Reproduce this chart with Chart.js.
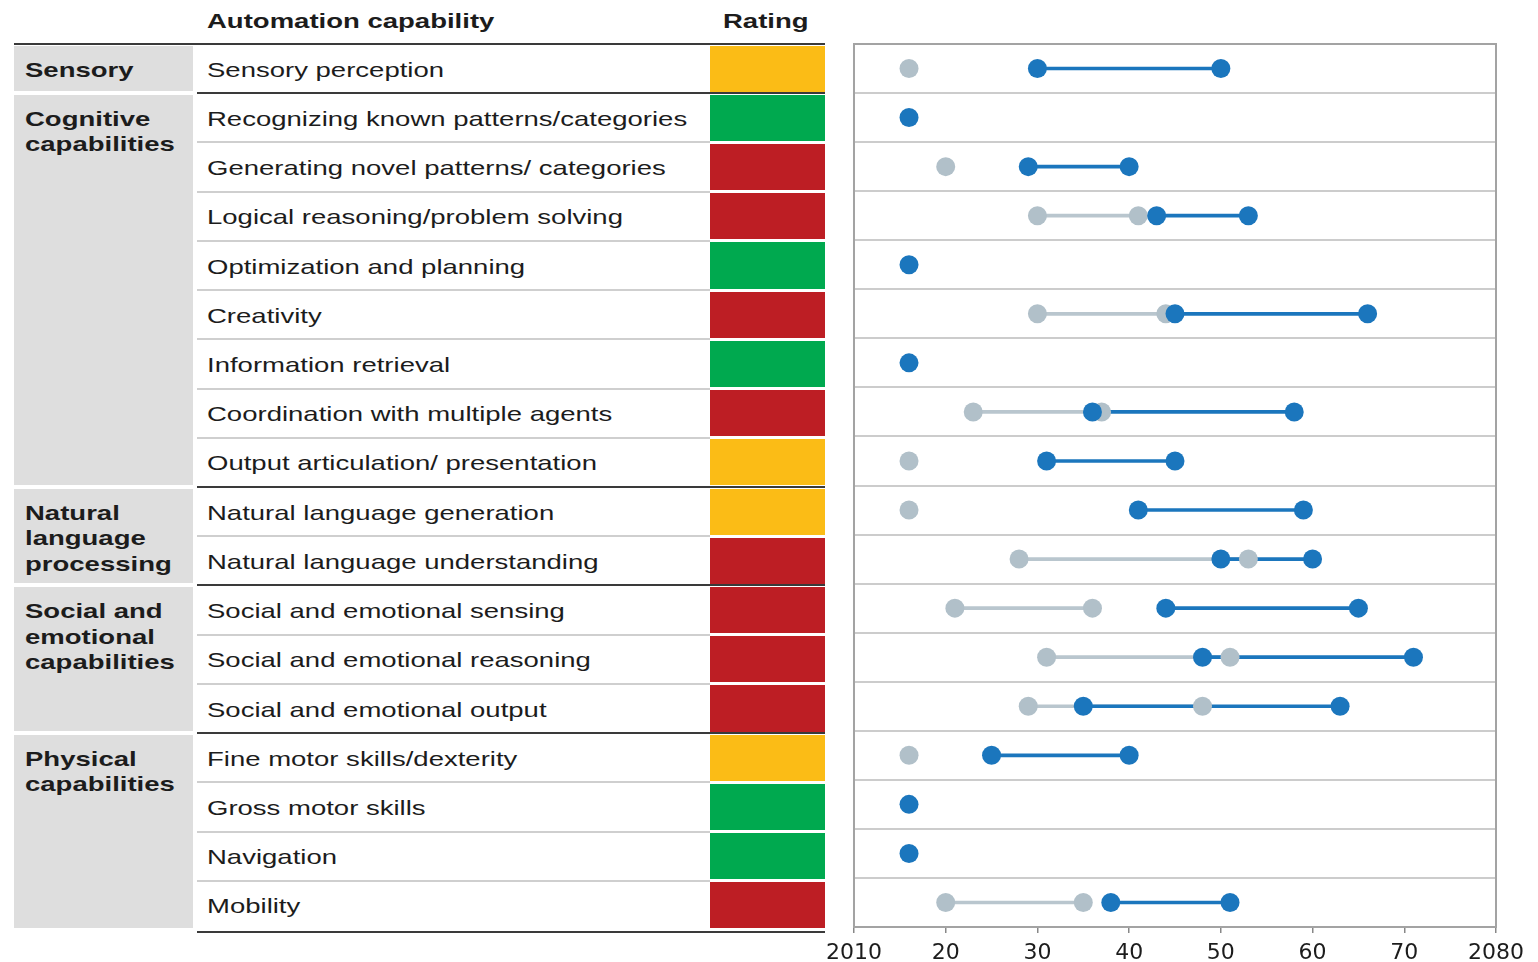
<!DOCTYPE html>
<html>
<head>
<meta charset="utf-8">
<script src="https://cdn.jsdelivr.net/npm/chart.js@4.4.1/dist/chart.umd.min.js"></script>
<style>
  body { margin: 0; background: #fff; width: 1538px; height: 962px; position: relative; overflow: hidden;
         font-family: "Liberation Sans", Arial, sans-serif; color: #1c1c1c; }
  .box { position: absolute; }
  .txt { position: absolute; font-size: 21px; line-height: 25.5px; white-space: pre; transform: scaleX(1.31); transform-origin: 0 50%; }
  .bold { font-weight: bold; }
  #wrap { position: absolute; left: 819px; top: 0; }
</style>
</head>
<body>
<div id="table"></div>
<div id="wrap"><canvas id="chart" width="719" height="962"></canvas></div>
<script>
// rows, top to bottom
const capabilities = [
  'Sensory perception',
  'Recognizing known patterns/categories',
  'Generating novel patterns/ categories',
  'Logical reasoning/problem solving',
  'Optimization and planning',
  'Creativity',
  'Information retrieval',
  'Coordination with multiple agents',
  'Output articulation/ presentation',
  'Natural language generation',
  'Natural language understanding',
  'Social and emotional sensing',
  'Social and emotional reasoning',
  'Social and emotional output',
  'Fine motor skills/dexterity',
  'Gross motor skills',
  'Navigation',
  'Mobility'
];
const groupNames = ['Sensory', 'Cognitive\ncapabilities', 'Natural\nlanguage\nprocessing', 'Social and\nemotional\ncapabilities', 'Physical\ncapabilities'];
const groupStarts = [0, 1, 9, 11, 14];
const groupSizes = [1, 8, 2, 3, 4];
const ratings = ['yellow', 'green', 'red', 'red', 'green', 'red', 'green', 'red', 'yellow',
                 'yellow', 'red', 'red', 'red', 'red', 'yellow', 'green', 'green', 'red'];

// years; null = no point
const greyStart = [2016, null, 2020, 2030, null, 2030, null, 2023, 2016, 2016, 2028, 2021, 2031, 2029, 2016, null, null, 2020];
const greyEnd   = [null, null, null, 2041, null, 2044, null, 2037, null, null, 2053, 2036, 2051, 2048, null, null, null, 2035];
const blueStart = [2030, 2016, 2029, 2043, 2016, 2045, 2016, 2036, 2031, 2041, 2050, 2044, 2048, 2035, 2025, 2016, 2016, 2038];
const blueEnd   = [2050, null, 2040, 2053, null, 2066, null, 2058, 2045, 2059, 2060, 2065, 2071, 2063, 2040, null, null, 2051];
const tickLabels = ['2010', '20', '30', '40', '50', '60', '70', '2080'];

const ratingColors = { yellow: '#fbbc16', green: '#00a94f', red: '#bd1e24' };
const blue = '#1b76bd';
const greyDot = '#b1c0c9';
const greyLine = '#b9c6ce';

// ---- left table ----
const TOP = 44, ROW_H = 886 / 18;
const rowTop = i => TOP + i * ROW_H;
const table = document.getElementById('table');

function box(x, y, w, h, color) {
  const d = document.createElement('div');
  d.className = 'box';
  d.style.cssText = `left:${x}px;top:${y}px;width:${w}px;height:${h}px;background:${color}`;
  table.appendChild(d);
}
function text(str, x, y, bold) {
  const d = document.createElement('div');
  d.className = 'txt' + (bold ? ' bold' : '');
  d.style.left = x + 'px';
  d.style.top = y + 'px';
  d.textContent = str;
  table.appendChild(d);
  return d;
}

text('Automation capability', 207, 21 - 12.75, true);
const r = text('Rating', 0, 21 - 12.75, true);
r.style.left = (766 - r.offsetWidth * 1.31 / 2) + 'px';

groupNames.forEach((name, g) => {
  const s = groupStarts[g], n = groupSizes[g];
  box(14, rowTop(s) + 2, 179, n * ROW_H - 4, '#dedede');
  text(name, 25, rowTop(s) + ROW_H / 2 - 12, true);
});

capabilities.forEach((cap, i) => {
  box(710, rowTop(i) + 1.5, 115, ROW_H - 3, ratingColors[ratings[i]]);
  if (i > 0) box(197, rowTop(i) - 1, 513, 2, '#cfcfcf');
  text(cap, 207, rowTop(i) + ROW_H / 2 - 12, false);
});

box(14, TOP - 1, 811, 2, '#3a3a3a');
groupStarts.slice(1).forEach(s => box(197, rowTop(s) - 1, 628, 2, '#3a3a3a'));
box(197, rowTop(18) + 1, 628, 2, '#3a3a3a');

// ---- dumbbell chart ----
function ranges(starts, ends) {
  return starts.map((s, i) => (s != null && ends[i] != null) ? [s, ends[i]] : null);
}
function points(starts, ends) {
  const pts = [];
  capabilities.forEach((cap, i) => {
    if (starts[i] != null) pts.push({ x: starts[i], y: cap });
    if (ends[i] != null) pts.push({ x: ends[i], y: cap });
  });
  return pts;
}

const frame = {
  id: 'frame',
  beforeDatasetsDraw(chart) {
    const { ctx, chartArea: a } = chart;
    ctx.save();
    ctx.strokeStyle = '#a3a3a3';
    ctx.lineWidth = 2;
    ctx.strokeRect(a.left, a.top, a.right - a.left, a.bottom - a.top);
    ctx.restore();
  }
};

const ctx = document.getElementById('chart').getContext('2d');
new Chart(ctx, {
  type: 'bar',
  data: {
    labels: capabilities,
    datasets: [
      { label: 'grey range', data: ranges(greyStart, greyEnd), backgroundColor: greyLine, barThickness: 3, grouped: false, order: 4 },
      { label: 'blue range', data: ranges(blueStart, blueEnd), backgroundColor: blue, barThickness: 3, grouped: false, order: 3 },
      { type: 'scatter', label: 'grey', data: points(greyStart, greyEnd), indexAxis: 'x', backgroundColor: greyDot, borderWidth: 0, pointRadius: 9.5, order: 2 },
      { type: 'scatter', label: 'blue', data: points(blueStart, blueEnd), indexAxis: 'x', backgroundColor: blue, borderWidth: 0, pointRadius: 9.5, order: 1 }
    ]
  },
  options: {
    indexAxis: 'y',
    responsive: false,
    animation: false,
    devicePixelRatio: 1,
    layout: { padding: { left: 25, right: 42, top: 44, bottom: 0 } },
    plugins: { legend: { display: false }, tooltip: { enabled: false } },
    scales: {
      x: {
        type: 'linear', min: 2010, max: 2080,
        ticks: { stepSize: 10, callback: (v, i) => tickLabels[i], font: { family: 'DejaVu Sans', size: 22 }, color: '#1c1c1c', padding: 7, maxRotation: 0, autoSkip: false },
        grid: { drawOnChartArea: false, tickLength: 6, color: '#888', lineWidth: 1.5 },
        border: { display: false },
        afterFit: a => { a.height = 35; }
      },
      y: {
        type: 'category', offset: true,
        ticks: { display: false },
        grid: { offset: true, color: '#cccccc', lineWidth: 2, drawTicks: false },
        border: { display: false },
        afterFit: a => { a.width = 0; }
      }
    }
  },
  plugins: [frame]
});
</script>
</body>
</html>
